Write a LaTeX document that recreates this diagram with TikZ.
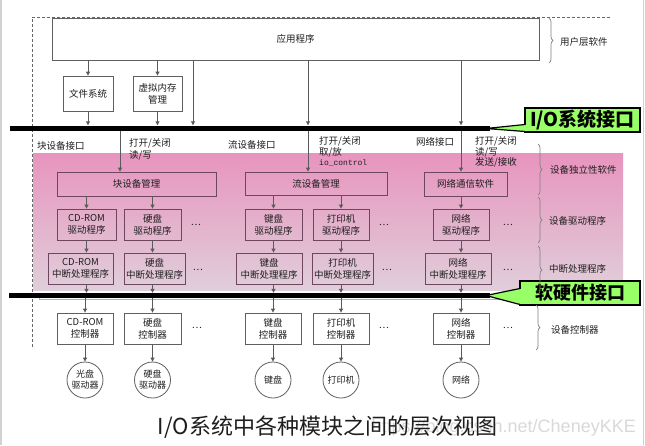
\documentclass[tikz,border=0pt]{standalone}
\usepackage{fontspec}
\setmainfont{Noto Sans CJK SC}
\newfontfamily\monof{Liberation Mono}
\newfontfamily\wmf{Liberation Sans}
\usetikzlibrary{arrows.meta,decorations.pathreplacing,calc}
\definecolor{pinktop}{RGB}{232,148,190}
\definecolor{pinkbot}{RGB}{224,206,218}
\definecolor{calloutgreen}{RGB}{153,255,102}
\definecolor{boxc}{RGB}{95,95,95}
\definecolor{pboxc}{RGB}{110,70,95}
\definecolor{txtc}{RGB}{30,30,30}
\definecolor{arrc}{RGB}{90,90,90}
\begin{document}
\begin{tikzpicture}[x=1pt,y=-1pt,
  sfont/.style={font=\fontsize{9.5}{12}\selectfont},
  box/.style={draw=boxc, line width=0.8pt, align=center, inner sep=0pt, sfont, text=txtc},
  pbox/.style={box, draw=pboxc},
  lbl/.style={inner sep=0pt, align=left, sfont, text=txtc},
  dots/.style={inner sep=0pt, sfont, text=txtc},
  ell/.style={circle, draw=boxc, line width=0.8pt, minimum size=36pt, inner sep=0pt, align=center, font=\fontsize{9}{11}\selectfont, text=txtc},
  arr/.style={draw=arrc, line width=0.9pt, -{Triangle[length=4pt,width=4pt]}},
  barstyle/.style={fill=black, inner sep=0pt, minimum height=5pt},
  callout/.style={fill=calloutgreen, draw=black, line width=1.2pt, inner sep=0pt, font=\bfseries\fontsize{19}{22}\selectfont},
  bracestyle/.style={draw=gray, line width=0.7pt, decorate, decoration={brace, amplitude=4pt}},
  blabel/.style={anchor=west, inner sep=0pt, sfont, text=txtc}
]
\useasboundingbox (0,0) rectangle (645,445);
\fill[white] (0,0) rectangle (645,445);
\draw[gray!35, line width=1.5pt] (1,0) -- (1,445);
\draw[gray!35, line width=1.5pt] (643.5,0) -- (643.5,445);

% pink region
\shade[top color=pinktop, bottom color=pinkbot] (33,153) rectangle (623,290);

% dashed frame
\draw[gray!80!black, densely dashed, line width=0.6pt] (610,17) -- (32,17) -- (32,348);

% user layer
\node[box, minimum width=487pt, minimum height=42pt] (app) at (295.5,39) {应用程序};
\node[box, minimum width=50pt, minimum height=35pt] (fs) at (88,93.5) {文件系统};
\node[box, minimum width=49pt, minimum height=35pt] (vm) at (157.5,93.5) {虚拟内存\\管理};

% bars
\node[barstyle, minimum width=480pt] (iobar) at (250,128) {};
\node[barstyle, minimum width=481pt] (hwbar) at (249.5,295.5) {};
\draw[gray!60, line width=0.7pt] (39,298) -- (39,299.5) -- (520,299.5);

% callouts
\node[callout, minimum width=115pt, minimum height=24pt] (iocall) at (582.5,120) {I/O系统接口};
\fill[calloutgreen] (526.6,124.8) -- (486,128.5) -- (526.6,131.2) -- cycle;
\draw[black, line width=1.2pt] (525,124.5) -- (486,128.5) -- (525,131.5);
\node[callout, minimum width=120pt, minimum height=24pt, font=\bfseries\fontsize{18}{21}\selectfont] (hwcall) at (580,293) {软硬件接口};
\fill[calloutgreen] (521.6,288.8) -- (486,295.5) -- (521.6,304.2) -- cycle;
\draw[black, line width=1.2pt] (520,288.5) -- (486,295.5) -- (520,304.5);

% interface labels
\node[lbl, anchor=west] (lblk) at (37,146) {块设备接口};
\node[lbl, anchor=north west, font=\fontsize{9.5}{12.5}\selectfont] (lop1) at (129,138) {打开/关闭\\读/写};
\node[lbl, anchor=west] (lstr) at (228,145) {流设备接口};
\node[lbl, anchor=north west, font=\fontsize{9.5}{10.5}\selectfont] (lop2) at (319,136.5) {打开/关闭\\取/放\\{\monof\fontsize{8}{10.5}\selectfont io\_control}};
\node[lbl, anchor=west] (lnet) at (416,142) {网络接口};
\node[lbl, anchor=north west, font=\fontsize{9.5}{10.5}\selectfont] (lop3) at (475,136.5) {打开/关闭\\读/写\\发送/接收};

% managers
\node[pbox, minimum width=159pt, minimum height=24pt] (blkmgr) at (136.5,184) {块设备管理};
\node[pbox, minimum width=142pt, minimum height=23pt] (strmgr) at (316,183.5) {流设备管理};
\node[pbox, minimum width=83pt, minimum height=24pt] (netsw) at (465.5,184) {网络通信软件};

% drivers
\node[pbox, minimum width=59pt, minimum height=31pt] (d1) at (86.5,224.5) {CD-ROM\\驱动程序};
\node[pbox, minimum width=57pt, minimum height=31pt] (d2) at (152.5,224.5) {硬盘\\驱动程序};
\node[pbox, minimum width=57pt, minimum height=31pt] (d3) at (273.5,224.5) {键盘\\驱动程序};
\node[pbox, minimum width=56pt, minimum height=31pt] (d4) at (341,224.5) {打印机\\驱动程序};
\node[pbox, minimum width=56pt, minimum height=31pt] (d5) at (461,224.5) {网络\\驱动程序};
\node[dots] (dd1) at (196,225) {…};
\node[dots] (dd2) at (384,225) {…};
\node[dots] (dd3) at (508,225) {…};

% interrupt handlers
\node[pbox, minimum width=65pt, minimum height=31pt] (i1) at (80.5,268.5) {CD-ROM\\中断处理程序};
\node[pbox, minimum width=61pt, minimum height=31pt] (i2) at (154.5,268.5) {硬盘\\中断处理程序};
\node[pbox, minimum width=66pt, minimum height=31pt] (i3) at (269,268.5) {键盘\\中断处理程序};
\node[pbox, minimum width=61pt, minimum height=31pt] (i4) at (342.5,268.5) {打印机\\中断处理程序};
\node[pbox, minimum width=66pt, minimum height=31pt] (i5) at (458,268.5) {网络\\中断处理程序};
\node[dots] (di1) at (198,270) {…};
\node[dots] (di2) at (387,270) {…};
\node[dots] (di3) at (508,270) {…};

% controllers
\node[box, minimum width=56pt, minimum height=31pt] (c1) at (85,328.5) {CD-ROM\\控制器};
\node[box, minimum width=57pt, minimum height=31pt] (c2) at (152.5,328.5) {硬盘\\控制器};
\node[box, minimum width=56pt, minimum height=31pt] (c3) at (273,328.5) {键盘\\控制器};
\node[box, minimum width=56pt, minimum height=31pt] (c4) at (341,328.5) {打印机\\控制器};
\node[box, minimum width=56pt, minimum height=31pt] (c5) at (461,328.5) {网络\\控制器};
\node[dots] (dc1) at (197,328) {…};
\node[dots] (dc2) at (384,328) {…};
\node[dots] (dc3) at (508,328) {…};

% devices
\node[ell] (e1) at (85,380) {光盘\\驱动器};
\node[ell] (e2) at (152.5,380) {硬盘\\驱动器};
\node[ell] (e3) at (273,380) {键盘};
\node[ell] (e4) at (341,380) {打印机};
\node[ell] (e5) at (461,380) {网络};

% helper x positions
\coordinate (xa) at (193,0);
\coordinate (xb) at (120,0);
\coordinate (xc) at (308,0);
\coordinate (xd) at (461,0);

% arrows top
\draw[arr] (app.south -| fs.north) -- (fs.north);
\draw[arr] (app.south -| vm.north) -- (vm.north);
\draw[arr] (fs.south) -- (iobar.north -| fs.south);
\draw[arr] (vm.south) -- (iobar.north -| vm.south);
\draw[arr] (app.south -| xa) -- (iobar.north -| xa);
\draw[arr] (app.south -| xc) -- (iobar.north -| xc);
\draw[arr] (app.south -| xd) -- (iobar.north -| xd);
\draw[arr] (iobar.south -| xb) -- (blkmgr.north -| xb);
\draw[arr] (iobar.south -| xc) -- (strmgr.north -| xc);
\draw[arr] (iobar.south -| xd) -- (netsw.north -| xd);

% managers to drivers
\draw[arr] (blkmgr.south -| d1.north) -- (d1.north);
\draw[arr] (blkmgr.south -| d2.north) -- (d2.north);
\draw[arr] (strmgr.south -| d3.north) -- (d3.north);
\draw[arr] (strmgr.south -| d4.north) -- (d4.north);
\draw[arr] (netsw.south -| d5.north) -- (d5.north);

% drivers to interrupt handlers
\foreach \k in {1,...,5} {
  \draw[arr] (d\k.south) -- (i\k.north -| d\k.south);
  \draw[arr] (i\k.south -| d\k.south) -- (hwbar.north -| d\k.south);
  \draw[arr] (hwbar.south -| c\k.north) -- (c\k.north);
  \draw[arr] (c\k.south) -- (e\k.north);
}

% braces
\draw[bracestyle] (549,18) -- (549,63);
\node[blabel] (bl1) at (560,42) {用户层软件};
\draw[bracestyle] (538,144) -- (538,195);
\node[blabel] (bl2) at (550,170) {设备独立性软件};
\draw[bracestyle] (538,197) -- (538,243);
\node[blabel] (bl3) at (549,221) {设备驱动程序};
\draw[bracestyle] (538,246) -- (538,294);
\node[blabel] (bl4) at (549,269) {中断处理程序};
\draw[bracestyle] (536,305) -- (536,350);
\node[blabel] (bl5) at (551,330) {设备控制器};

% watermark and caption
\node[anchor=east, inner sep=0pt, text=gray!30, font=\wmf\fontsize{18}{20}\selectfont] (wm) at (636,428) {https://blog.csdn.net/CheneyKKE};
\node[inner sep=0pt, text=txtc, font=\fontsize{22}{26}\selectfont] (cap) at (327.5,427) {I/O系统中各种模块之间的层次视图};
\end{tikzpicture}
\end{document}
